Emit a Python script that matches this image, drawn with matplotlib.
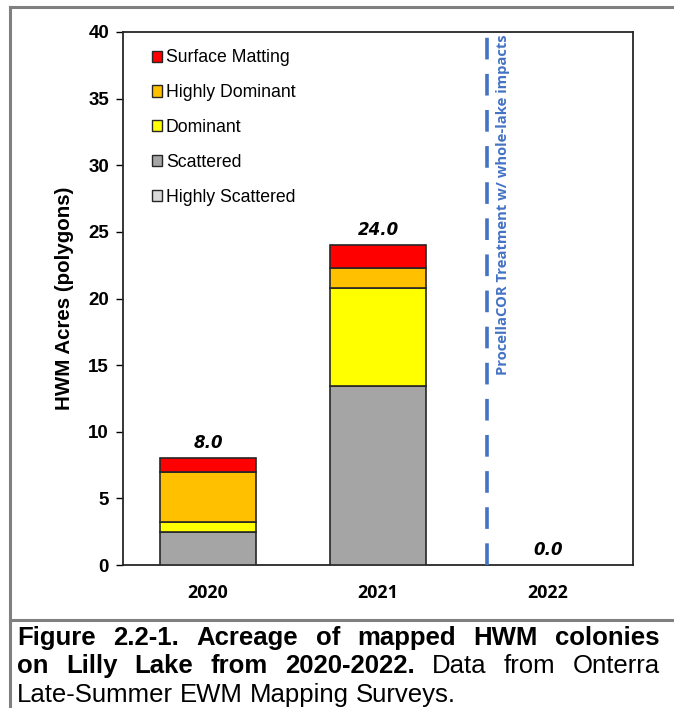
import matplotlib
matplotlib.use("Agg")
import matplotlib.pyplot as plt
from matplotlib.patches import Patch
from matplotlib.lines import Line2D
import numpy as np

years = ["2020", "2021", "2022"]
series_names = ["Highly Scattered", "Scattered", "Dominant", "Highly Dominant", "Surface Matting"]
highly_scattered = [0.0, 0.0, 0.0]
scattered = [2.5, 13.4, 0.0]
dominant = [0.7, 7.4, 0.0]
highly_dominant = [3.8, 1.5, 0.0]
surface_matting = [1.0, 1.7, 0.0]
totals = [8.0, 24.0, 0.0]
colors = ["#D9D9D9", "#A5A5A5", "#FFFF00", "#FFC000", "#FF0000"]
treatment_label = "ProcellaCOR Treatment w/ whole-lake impacts"

W, H = 674, 708
fig = plt.figure(figsize=(W / 100, H / 100), dpi=100)
fig.patch.set_facecolor("white")

ax = fig.add_axes([123 / W, (H - 565) / H, 510 / W, (565 - 32) / H])
x = np.arange(len(years))
bottom = np.zeros(len(years))
series = [highly_scattered, scattered, dominant, highly_dominant, surface_matting]
for name, vals, c in zip(series_names, series, colors):
    vals = np.array(vals)
    mask = vals > 0
    ax.bar(x[mask], vals[mask], bottom=bottom[mask], width=0.57, color=c,
           edgecolor="#262626", linewidth=1.2, zorder=3)
    bottom += vals

for xi, t in zip(x, totals):
    ax.text(xi, t + 0.45, f"{t:.1f}", ha="center", va="bottom", fontsize=12,
            fontweight="bold", fontstyle="italic", family="DejaVu Sans")

ax.set_xlim(-0.5, 2.5)
ax.set_ylim(0, 40)
ax.set_yticks(range(0, 41, 5))
ax.set_xticks(x)
ax.set_xticklabels(years, fontsize=12.8, fontweight="bold", family="Open Sans")
ax.tick_params(axis="x", length=0, pad=14)
ax.tick_params(axis="y", length=5, width=1, direction="out", pad=5, labelsize=13.5)
plt.setp(ax.get_yticklabels(), fontweight="bold", family="Liberation Sans")
for s in ax.spines.values():
    s.set_color("#262626")
    s.set_linewidth(1.3)
ax.set_ylabel("HWM Acres (polygons)", fontsize=14.8, fontweight="bold",
              family="Liberation Sans", labelpad=10)

# treatment line
ax.axvline(1.64, color="#4472C4", linestyle=(0, (6, 4)), linewidth=2.6, zorder=4)
ax.text(1.735, 39.8, treatment_label, rotation=90, ha="center", va="top",
        color="#4472C4", fontsize=10.6, fontweight="bold", family="Open Sans")

# legend
handles = [Patch(facecolor=c, edgecolor="#262626", linewidth=1.0, label=n)
           for n, c in zip(series_names, colors)][::-1]
leg = ax.legend(handles=handles, loc="upper left", bbox_to_anchor=(0.025, 0.997),
                frameon=False, labelspacing=1.01,
                handlelength=0.6, handleheight=0.6, handletextpad=0.2,
                prop={"family": "Liberation Sans", "size": 12.7})

# frame lines
gray = "#808080"
fig.add_artist(Line2D([10 / W, 10 / W], [0, 1 - 7 / H], color=gray, lw=2.2))
fig.add_artist(Line2D([10 / W, 1], [1 - 7 / H, 1 - 7 / H], color=gray, lw=2.2))
fig.add_artist(Line2D([10 / W, 1], [1 - 620 / H, 1 - 620 / H], color=gray, lw=2.2))

# caption with justification
fam = ["Liberation Sans"]
renderer = fig.canvas.get_renderer()


def place_line(parts, y_px, x0, x1, justify=True, size=18.5):
    texts = []
    for word, weight in parts:
        t = fig.text(0, 1 - y_px / H, word, fontsize=size, fontweight=weight,
                     family=fam, va="baseline", ha="left")
        texts.append(t)
    widths = [t.get_window_extent(renderer).width for t in texts]
    if justify and len(texts) > 1:
        gap = (x1 - x0 - sum(widths)) / (len(texts) - 1)
    else:
        sp = fig.text(0, 0, "a a", fontsize=size, family=fam)
        sp2 = fig.text(0, 0, "aa", fontsize=size, family=fam)
        gap = sp.get_window_extent(renderer).width - sp2.get_window_extent(renderer).width
        sp.remove(); sp2.remove()
    xp = x0
    for t, w in zip(texts, widths):
        t.set_x(xp / W)
        xp += w + gap


line1 = [("Figure", "bold"), ("2.2-1.", "bold"), ("Acreage", "bold"), ("of", "bold"),
         ("mapped", "bold"), ("HWM", "bold"), ("colonies", "bold")]
line2 = [("on", "bold"), ("Lilly", "bold"), ("Lake", "bold"), ("from", "bold"),
         ("2020-2022.", "bold"), ("Data", "normal"), ("from", "normal"), ("Onterra", "normal")]
line3 = [("Late-Summer", "normal"), ("EWM", "normal"), ("Mapping", "normal"), ("Surveys.", "normal")]
place_line(line1, 645, 17, 660)
place_line(line2, 673, 17, 660)
place_line(line3, 702, 17, 660, justify=False)

fig.savefig("out.png", dpi=100)
